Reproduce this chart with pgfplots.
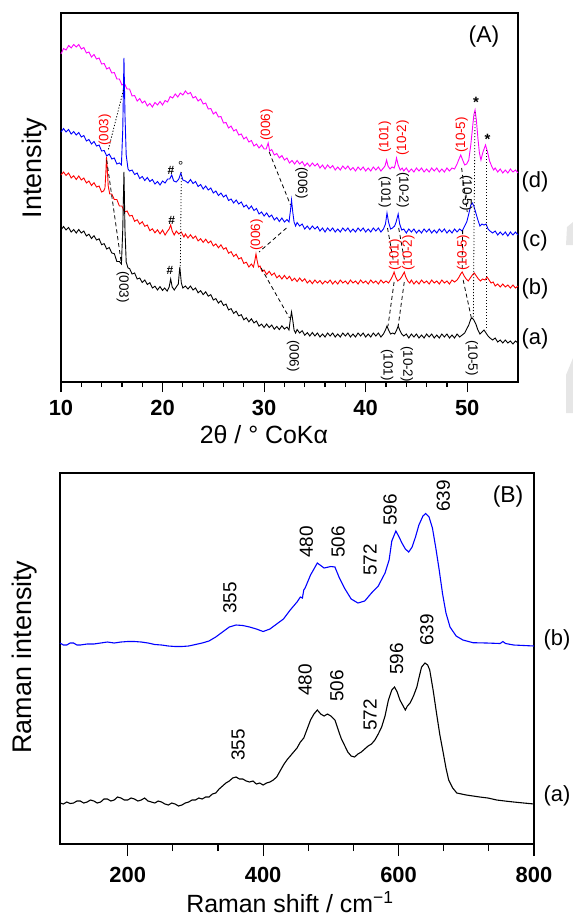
\documentclass[border=0pt]{standalone}
\usepackage{fontspec}
\setmainfont{Liberation Sans}
\usepackage{pgfplots}
\pgfplotsset{compat=1.18}
\definecolor{mag}{RGB}{255,0,255}
\definecolor{blu}{RGB}{0,0,255}
\definecolor{rd}{RGB}{255,0,0}
\definecolor{artif}{RGB}{230,230,230}
\tikzset{
  lbl/.style={font=\fontsize{13.5}{13.5}\selectfont, inner sep=0pt},
  gd/.style={black, line width=0.8bp, dash pattern=on 4bp off 3bp},
  gt/.style={black, line width=0.8bp, dash pattern=on 1.2bp off 1.8bp},
}
\begin{document}
\begin{tikzpicture}[x=1bp,y=1bp]
\useasboundingbox (0,0) rectangle (573,-919);
\fill[artif] (567,-227) -- (573,-222) -- (573,-245) -- (566,-245) -- cycle;
\fill[artif] (566,-375) -- (573,-358) -- (573,-413) -- (566,-413) -- cycle;
\coordinate (PA) at (61,-382);
\coordinate (PB) at (60,-844);
\pgfplotsset{
  common/.style={
    scale only axis, clip=false, y dir=reverse,
    ytick=\empty, tick pos=left, tick align=outside,
    axis line style={line width=1.4bp},
    every tick/.style={black, line width=1.2bp},
    /pgf/number format/assume math mode=true,
    xticklabel style={font=\fontsize{22}{22}\selectfont\bfseries},
  },
}
% ---------------- (A) XRD ----------------
\begin{axis}[common,
  at={(PA)}, anchor=south west, width=457bp, height=369bp,
  xmin=10, xmax=55, ymin=13, ymax=382,
  xtick={10,20,30,40,50}, minor x tick num=4,
  major tick length=10bp, minor tick length=5bp,
  xticklabel style={yshift=-5bp},
  xlabel={2θ / ° CoKα}, ylabel={Intensity},
  xlabel style={font=\fontsize{25}{25}\selectfont, at={(axis description cs:0.444,-0.1436)}, anchor=center},
  ylabel style={font=\fontsize{27}{27}\selectfont, at={(axis description cs:-0.057,0.58)}, anchor=center, rotate=0},
]
\addplot[mag, line width=0.9bp] coordinates {(10,54)(10.25,48.5)(10.5,50)(10.75,45.5)(11,48)(11.25,44.5)(11.5,47)(11.75,44.5)(12,49)(12.25,47.5)(12.5,53)(12.75,52)(13,57)(13.25,54.5)(13.5,59)(13.75,58)(14,64)(14.25,63.5)(14.5,69)(14.75,67.5)(15,73)(15.25,72.5)(15.5,79)(15.75,79)(16,85)(16.25,83.5)(16.5,89)(16.75,89)(17,96)(17.25,95.5)(17.5,101)(17.75,98.5)(18,103)(18.25,101)(18.5,106)(18.75,103.5)(19,107)(19.25,102.5)(19.5,105)(19.75,101.5)(20,105)(20.25,100.5)(20.5,102)(20.75,96.5)(21,98)(21.25,94)(21.5,97)(21.75,93)(22,95)(22.25,91)(22.5,94)(22.75,92.5)(23,98)(23.25,96.5)(23.5,101)(23.75,99)(24,104)(24.25,103)(24.5,109)(24.75,108.5)(25,114)(25.25,112)(25.5,117)(25.75,116.5)(26,123)(26.25,122.5)(26.5,128)(26.75,126)(27,131)(27.25,129.5)(27.5,135)(27.75,134)(28,139)(28.25,137)(28.5,142)(28.75,140.5)(29,146)(29.25,144)(29.5,148)(29.75,145)(30,149)(30.2,149)(30.4,143)(30.55,151)(30.75,149.5)(31,155)(31.25,153.5)(31.5,158)(31.75,155.5)(32,160)(32.25,158)(32.5,163)(32.75,160.5)(33,164)(33.25,160.5)(33.5,164)(33.75,161.5)(34,166)(34.25,163)(34.5,166.5)(34.75,163)(35,166)(35.25,163.5)(35.5,168)(35.75,165)(36,169)(36.25,165)(36.5,168)(36.75,165.5)(37,170)(37.25,167)(37.5,170)(37.75,166)(38,169)(38.25,166)(38.5,170)(38.75,167.5)(39,171)(39.25,167)(39.5,170)(39.75,167)(40,171)(40.25,168)(40.5,171)(40.75,167)(41,170)(41.25,167)(41.5,171)(41.75,168)(41.9,166)(42.06,160)(42.2,166)(42.4,169)(42.6,167)(42.8,168)(42.9,165)(43.04,158)(43.2,165)(43.4,170)(43.6,168)(43.75,171)(44,168)(44.25,172)(44.5,169)(44.75,172)(45,168)(45.25,171)(45.5,168)(45.75,172)(46,169)(46.25,172)(46.5,168)(46.75,171)(47,168)(47.25,172)(47.5,169)(47.75,172)(48,168)(48.25,171)(48.5,168)(48.75,169)(49,164)(49.15,160)(49.36,155)(49.55,160)(49.75,165)(49.95,164)(50.15,160)(50.35,145)(50.5,130)(50.65,115)(50.77,110)(50.9,120)(51.05,138)(51.2,153)(51.35,160)(51.55,152)(51.8,145)(52.0,152)(52.2,161)(52.4,166)(52.6,170)(52.75,168)(53,172)(53.25,169)(53.5,173)(53.75,170)(54,173)(54.25,169)(54.5,172)(54.75,170)(55,173)};
\addplot[blu, line width=0.9bp] coordinates {(10,132)(10.25,128.5)(10.5,132)(10.75,129.5)(11,134)(11.25,131.5)(11.5,135)(11.75,132.5)(12,137)(12.25,135.5)(12.5,141)(12.75,139.5)(13,144)(13.25,141.5)(13.5,146)(13.75,145)(14,151)(14.25,150.5)(14.5,156)(14.75,154)(15,159)(15.25,158)(15.5,164)(15.75,163)(15.95,165)(16.08,130)(16.2,58)(16.3,115)(16.42,155)(16.6,169)(16.75,171)(17,170)(17.25,174.5)(17.5,173)(17.75,178.5)(18,176.5)(18.25,180.5)(18.5,177.5)(18.75,181.5)(19,179.5)(19.25,184)(19.5,181.5)(19.75,185)(20,181)(20.25,183)(20.5,179)(20.7,179)(20.9,175)(21.1,181)(21.35,182)(21.6,179)(21.8,173)(22.0,180)(22.25,181)(22.5,183)(22.75,179.5)(23,183.5)(23.25,181.5)(23.5,186.5)(23.75,184.5)(24,189)(24.25,186)(24.5,190)(24.75,188)(25,193)(25.25,191)(25.5,195.5)(25.75,193)(26,197)(26.25,195)(26.5,200.5)(26.75,199)(27,203)(27.25,200)(27.5,204)(27.75,202)(28,207)(28.25,205)(28.5,209)(28.75,206)(29,210.5)(29.25,208.5)(29.5,214)(29.75,212)(30,216)(30.25,213)(30.5,217)(30.75,215)(31,220)(31.25,217.5)(31.5,221.5)(31.75,218)(32,222)(32.25,219.5)(32.45,222)(32.6,210)(32.7,200)(32.82,212)(32.95,222)(33.1,226)(33.25,222.5)(33.5,226)(33.75,224)(34,229)(34.25,226)(34.5,229.5)(34.75,226)(35,229)(35.25,226.5)(35.5,231)(35.75,228)(36,232)(36.25,228)(36.5,231)(36.75,228)(37,232)(37.25,229)(37.5,232)(37.75,228)(38,231)(38.25,228)(38.5,232)(38.75,229)(39,232)(39.25,228)(39.5,231)(39.75,228)(40,232)(40.25,229)(40.5,232)(40.75,228)(41,231)(41.25,228)(41.5,232)(41.75,229)(41.95,224)(42.1,213)(42.25,222)(42.45,229)(42.65,228)(42.85,226)(43.0,222)(43.2,214)(43.35,224)(43.55,230)(43.75,229)(44,233)(44.25,229)(44.5,232)(44.75,229)(45,233)(45.25,230)(45.5,233)(45.75,229)(46,232)(46.25,229)(46.5,233)(46.75,230)(47,233)(47.25,229)(47.5,232)(47.75,229)(48,233)(48.25,230)(48.5,233)(48.75,229)(49,232)(49.25,229)(49.5,231)(49.75,226)(49.95,222)(50.15,214)(50.35,205)(50.5,203)(50.65,206)(50.85,213)(51.05,220)(51.25,226)(51.45,224)(51.65,225)(51.85,224)(52.05,229)(52.25,231)(52.5,233)(52.75,231)(53,235)(53.25,232)(53.5,235)(53.75,232)(54,236)(54.25,232)(54.5,235)(54.75,232)(55,235)};
\addplot[rd, line width=0.9bp] coordinates {(10,175)(10.25,172)(10.5,175.5)(10.75,173)(11,178)(11.25,175.75)(11.5,179.5)(11.75,176)(12,180)(12.25,178)(12.5,183)(12.75,181)(13,185.5)(13.25,182.7)(13.5,187)(13.75,186)(14,192)(14.2,191)(14.33,188)(14.42,172)(14.48,157)(14.55,168)(14.65,186)(14.8,194)(15,194)(15.25,199.5)(15.5,199.5)(15.75,206)(16,206)(16.25,212)(16.5,211)(16.75,216)(17,215.3)(17.25,221.3)(17.5,219.7)(17.75,224.1)(18,221.7)(18.25,226.3)(18.5,225)(18.75,230.7)(19,228.8)(19.25,232.8)(19.5,229.8)(19.75,233.8)(20,230)(20.25,235)(20.5,231)(20.65,229)(20.8,225)(20.95,231)(21.15,235)(21.35,231)(21.6,234)(21.85,232)(22.1,237)(22.25,234)(22.5,238)(22.75,234.7)(23,238.4)(23.25,236.1)(23.5,240.9)(23.75,238.7)(24,242.4)(24.25,239.2)(24.5,243)(24.75,241)(25,245.9)(25.25,243.9)(25.5,247.8)(25.75,244.8)(26,249.2)(26.25,247.7)(26.5,253.2)(26.75,251.7)(27,256.4)(27.25,254.2)(27.5,259)(27.75,257.6)(28,263.4)(28.25,262.2)(28.5,267)(28.75,264)(28.95,267)(29.08,261)(29.2,254)(29.32,261)(29.45,267)(29.6,266)(29.8,271.5)(30,270)(30.25,274.5)(30.5,271.3)(30.75,275.2)(31,273)(31.25,277.8)(31.5,275.4)(31.75,279)(32,275.4)(32.25,279)(32.5,276.3)(32.75,280.8)(33,278.2)(33.25,281.6)(33.5,278)(33.75,281.3)(34,278.7)(34.25,283)(34.5,280.3)(34.75,283.7)(35,280)(35.25,283)(35.5,280.5)(35.75,284)(36,281)(36.25,283)(36.5,280)(36.75,284)(37,281)(37.25,284)(37.5,280)(37.75,283)(38,281)(38.25,284)(38.5,280)(38.75,283)(39,281)(39.25,284)(39.5,280)(39.75,283)(40,281)(40.25,284)(40.5,280)(40.75,283)(41,281)(41.25,284)(41.5,280)(41.75,283)(42,281)(42.25,283)(42.5,279)(42.65,276)(42.8,272)(42.95,277)(43.15,281)(43.4,279)(43.6,276)(43.8,272)(43.95,277)(44.15,281)(44.35,283)(44.5,280)(44.75,284)(45,281)(45.25,284)(45.5,280)(45.75,283)(46,281)(46.25,284)(46.5,280)(46.75,283)(47,281)(47.25,284)(47.5,280)(47.75,283)(48,281)(48.25,284)(48.5,280)(48.75,282)(49,280)(49.2,277)(49.35,274)(49.5,272)(49.7,276)(49.9,279)(50.1,281)(50.3,278)(50.5,275)(50.7,273)(50.9,276)(51.1,279)(51.3,281)(51.5,279)(51.75,280)(51.95,277)(52.15,280)(52.35,283)(52.55,282)(52.75,286)(53,284)(53.25,287)(53.5,284)(53.75,287)(54,285)(54.25,288)(54.5,285)(54.75,288)(55,286)};
\addplot[black, line width=0.9bp] coordinates {(10,230)(10.25,226.5)(10.5,230)(10.75,227.5)(11,232)(11.25,229.5)(11.5,233)(11.75,229.5)(12,233)(12.25,231)(12.5,236)(12.75,234.2)(13,238.5)(13.25,235.7)(13.5,240)(13.75,238.8)(14,244.7)(14.25,243.6)(14.5,249)(14.75,247.5)(15,253)(15.25,253.7)(15.5,261.5)(15.75,261.5)(15.95,264)(16.08,230)(16.2,172)(16.3,230)(16.42,262)(16.6,268)(16.75,268.5)(17,274)(17.25,273)(17.5,279)(17.75,278)(18,282.5)(18.25,280)(18.5,284.5)(18.75,282.7)(19,288)(19.25,286.2)(19.5,290)(19.75,286.6)(20,290.4)(20.2,288)(20.45,291)(20.65,287)(20.8,279)(20.95,287)(21.15,290)(21.35,287)(21.55,284)(21.7,267)(21.85,283)(22.0,288)(22.25,286)(22.5,289)(22.75,286)(23,290)(23.25,288)(23.5,292.8)(23.75,290.7)(24,294.6)(24.25,291.8)(24.5,296.2)(24.75,294.6)(25,300)(25.25,298.6)(25.5,303.1)(25.75,300.7)(26,305.4)(26.25,304.1)(26.5,309.9)(26.75,308.6)(27,313.4)(27.25,311.2)(27.5,315.9)(27.75,314.7)(28,319.8)(28.25,317.8)(28.5,321.8)(28.75,318.8)(29,322.9)(29.25,321)(29.5,326.1)(29.75,324.1)(30,327.5)(30.25,324)(30.5,327.5)(30.75,325)(31,329.2)(31.25,326.4)(31.5,329.6)(31.75,325.8)(32,329)(32.25,327)(32.45,330)(32.6,318)(32.7,312)(32.82,320)(32.95,330)(33.1,333)(33.25,329.5)(33.5,333)(33.75,330.7)(34,335.2)(34.25,332.6)(34.5,336)(34.75,332.5)(35,336)(35.25,333)(35.5,337)(35.75,334)(36,337)(36.25,333)(36.5,336)(36.75,333)(37,337)(37.25,334)(37.5,337)(37.75,333)(38,336)(38.25,333)(38.5,337)(38.75,334)(39,337)(39.25,333)(39.5,336)(39.75,333)(40,337)(40.25,334)(40.5,337)(40.75,333)(41,336)(41.25,333)(41.5,337)(41.75,334)(41.95,330)(42.1,326)(42.25,330)(42.45,334)(42.65,333)(42.85,334)(43.05,330)(43.2,326)(43.35,330)(43.55,334)(43.75,336)(44,334)(44.25,338)(44.5,334)(44.75,337)(45,334)(45.25,338)(45.5,335)(45.75,338)(46,334)(46.25,337)(46.5,334)(46.75,338)(47,335)(47.25,338)(47.5,334)(47.75,337)(48,334)(48.25,338)(48.5,335)(48.75,338)(49,334)(49.25,337)(49.5,335)(49.75,333)(49.95,329)(50.15,325)(50.35,319)(50.5,318)(50.65,320)(50.85,324)(51.05,330)(51.25,334)(51.45,332)(51.65,330)(51.85,333)(52.05,336)(52.25,338)(52.5,340)(52.75,338)(53,342)(53.25,340)(53.5,343)(53.75,340)(54,343)(54.25,341)(54.5,344)(54.75,341)(55,343)};
% guide lines
\draw[gt] (16.15,90) -- (14.65,150);
\draw[gd] (14.5,160) -- (15.95,264);
\draw[gt] (21.85,172) -- (21.75,266);
\draw[gd] (30.5,152) -- (32.6,205);
\draw[gd] (32.2,228) -- (29.5,252);
\draw[gd] (29.7,268) -- (32.5,318);
\draw[gd] (42.15,228) -- (42.75,262);
\draw[gd] (43.25,228) -- (43.85,262);
\draw[gd] (42.8,282) -- (42.2,326);
\draw[gd] (43.8,282) -- (43.2,326);
\draw[gd] (49.45,168) -- (50.0,212);
\draw[gd] (49.55,230) -- (49.5,268);
\draw[gd] (49.6,280) -- (50.45,320);
\draw[gt] (50.77,112) -- (50.6,318);
\draw[gt] (51.85,150) -- (51.85,330);
% red labels
\node[lbl, rd, rotate=90] at (14.33,130) {(003)};
\node[lbl, rd, rotate=90] at (30.25,125) {(006)};
\node[lbl, rd, rotate=90] at (41.9,137) {(101)};
\node[lbl, rd, rotate=90] at (43.65,138) {(10-2)};
\node[lbl, rd, rotate=90] at (49.45,135) {(10-5)};
\node[lbl, rd, rotate=90] at (29.27,235) {(006)};
\node[lbl, rd, rotate=90] at (42.9,255) {(101)};
\node[lbl, rd, rotate=90] at (44.2,253) {(10-2)};
\node[lbl, rd, rotate=90] at (49.6,253) {(10-5)};
% black labels
\node[lbl, rotate=-90] at (33.7,183) {(006)};
\node[lbl, rotate=-90] at (41.9,192) {(101)};
\node[lbl, rotate=-90] at (43.65,190) {(10-2)};
\node[lbl, rotate=-90] at (49.9,193) {(10-5)};
\node[lbl, rotate=-90] at (16.1,287) {(003)};
\node[lbl, rotate=-90] at (32.85,356) {(006)};
\node[lbl, rotate=-90] at (42.1,365) {(101)};
\node[lbl, rotate=-90] at (44.05,364) {(10-2)};
\node[lbl, rotate=-90] at (50.45,358) {(10-5)};
% symbols
\node[lbl, font=\fontsize{12}{12}\selectfont\bfseries] at (20.83,170) {\#};
\node[lbl, font=\fontsize{13}{13}\selectfont] at (21.8,166) {°};
\node[lbl, font=\fontsize{12}{12}\selectfont\bfseries] at (20.9,220) {\#};
\node[lbl, font=\fontsize{12}{12}\selectfont\bfseries] at (20.73,270) {\#};
\node[lbl, font=\fontsize{15}{15}\selectfont\bfseries] at (50.86,102) {*};
\node[lbl, font=\fontsize{15}{15}\selectfont\bfseries] at (52.0,139) {*};
% curve labels
\node[font=\fontsize{22}{22}\selectfont, inner sep=0pt] at (56.67,182) {(d)};
\node[font=\fontsize{22}{22}\selectfont, inner sep=0pt] at (56.67,241) {(c)};
\node[font=\fontsize{22}{22}\selectfont, inner sep=0pt] at (56.67,289) {(b)};
\node[font=\fontsize{22}{22}\selectfont, inner sep=0pt] at (56.67,339) {(a)};
\node[font=\fontsize{23}{23}\selectfont, inner sep=0pt] at (51.65,37) {(A)};
\end{axis}
% ---------------- (B) Raman ----------------
\begin{axis}[common,
  at={(PB)}, anchor=south west, width=474bp, height=371bp,
  xmin=100, xmax=800, ymin=473, ymax=844,
  xtick={200,400,600,800}, minor x tick num=2,
  major tick length=12bp, minor tick length=7bp,
  xticklabel style={yshift=-8bp},
  xlabel={Raman shift / cm\textsuperscript{−1}}, ylabel={Raman intensity},
  xlabel style={font=\fontsize{25}{25}\selectfont, at={(axis description cs:0.485,-0.156)}, anchor=center},
  ylabel style={font=\fontsize{27}{27}\selectfont, at={(axis description cs:-0.0738,0.504)}, anchor=center, rotate=0},
]
\addplot[blu, line width=1.1bp] coordinates {(100,643)(105,645)(110,645)(115,643)(120,643)(125,645)(130,645)(140,644)(150,644)(160,643)(170,642)(180,643)(190,642)(200,641.5)(210,641.5)(220,642)(230,643)(240,644.5)(250,645)(260,646)(270,646.5)(280,646.5)(290,646)(300,644.5)(310,643)(320,641)(330,637)(340,632)(350,627)(360,625)(370,625.5)(380,627)(390,629)(400,631.5)(410,629)(420,624)(430,619)(440,610)(450,602)(455,597)(458,598)(460,590)(462,588)(470,575)(480,563)(490,568)(500,566.5)(506,567)(512,577)(520,588)(530,599)(540,603)(550,601)(560,593)(570,586)(580,573)(586,560)(590,541)(596,531)(600,536)(605,543)(610,549)(615,552)(620,547)(625,537)(630,525)(636,516)(640,513.5)(645,517)(650,528)(655,548)(660,570)(665,594)(670,613)(676,627)(685,636)(695,640)(710,642.7)(730,643)(750,643.5)(754,641.5)(758,643.5)(770,645)(785,645.5)(800,646)};
\addplot[black, line width=1.1bp] coordinates {(100,803)(105,804)(110,802)(115,803.5)(120,803)(125,801)(130,801)(135,803)(140,802)(145,800)(150,801)(155,803)(160,802)(165,799)(170,799)(175,801)(180,800)(185,797)(190,798)(195,800)(200,800)(205,798)(210,799)(215,801)(220,800)(225,798)(230,801)(235,802)(240,803)(245,801)(250,802)(255,804)(260,805)(265,803)(270,804)(275,806)(280,805)(285,803)(290,802)(295,800)(300,800)(305,798)(310,799)(315,797)(320,797)(325,794)(330,793)(335,789)(340,786)(345,783)(350,781)(355,778)(360,777)(365,779)(370,779)(375,781)(380,782)(385,781)(390,784)(395,783)(400,785)(405,783)(410,782)(415,780)(420,777)(425,771)(430,765)(435,760)(440,756)(445,752)(450,748)(455,742)(460,738)(465,729)(470,720)(475,714)(480,710)(485,714)(490,716)(495,714)(500,716)(506,720)(510,728)(515,738)(520,745)(525,752)(530,756)(535,757)(540,754)(545,752)(550,749)(555,746)(560,744)(565,740)(570,734)(575,727)(580,716)(585,700)(590,690)(594,687)(598,692)(602,700)(606,705)(610,710)(613,706)(617,703)(622,696)(627,687)(630,678)(634,667)(639,663)(643,665)(646,670)(651,690)(656,713)(661,735)(666,753)(670,768)(674,780)(680,788)(686,793)(693,794)(700,795)(710,796)(720,797)(732,798)(745,800)(757,801)(770,802)(785,803)(800,804)};
\node[font=\fontsize{19}{19}\selectfont, inner sep=0pt, rotate=90] at (351,598) {355};
\node[font=\fontsize{19}{19}\selectfont, inner sep=0pt, rotate=90] at (464,542) {480};
\node[font=\fontsize{19}{19}\selectfont, inner sep=0pt, rotate=90] at (510.6,542) {506};
\node[font=\fontsize{19}{19}\selectfont, inner sep=0pt, rotate=90] at (558,560) {572};
\node[font=\fontsize{19}{19}\selectfont, inner sep=0pt, rotate=90] at (587.5,510) {596};
\node[font=\fontsize{19}{19}\selectfont, inner sep=0pt, rotate=90] at (666,496) {639};
\node[font=\fontsize{19}{19}\selectfont, inner sep=0pt, rotate=90] at (363,745) {355};
\node[font=\fontsize{19}{19}\selectfont, inner sep=0pt, rotate=90] at (462,680) {480};
\node[font=\fontsize{19}{19}\selectfont, inner sep=0pt, rotate=90] at (508.7,686) {506};
\node[font=\fontsize{19}{19}\selectfont, inner sep=0pt, rotate=90] at (558,715) {572};
\node[font=\fontsize{19}{19}\selectfont, inner sep=0pt, rotate=90] at (597,659) {596};
\node[font=\fontsize{19}{19}\selectfont, inner sep=0pt, rotate=90] at (641.6,630) {639};
\node[font=\fontsize{23}{23}\selectfont, inner sep=0pt] at (761.7,497) {(B)};
\node[font=\fontsize{22}{22}\selectfont, inner sep=0pt] at (834,640) {(b)};
\node[font=\fontsize{22}{22}\selectfont, inner sep=0pt] at (834,796) {(a)};
\end{axis}
\end{tikzpicture}
\end{document}
